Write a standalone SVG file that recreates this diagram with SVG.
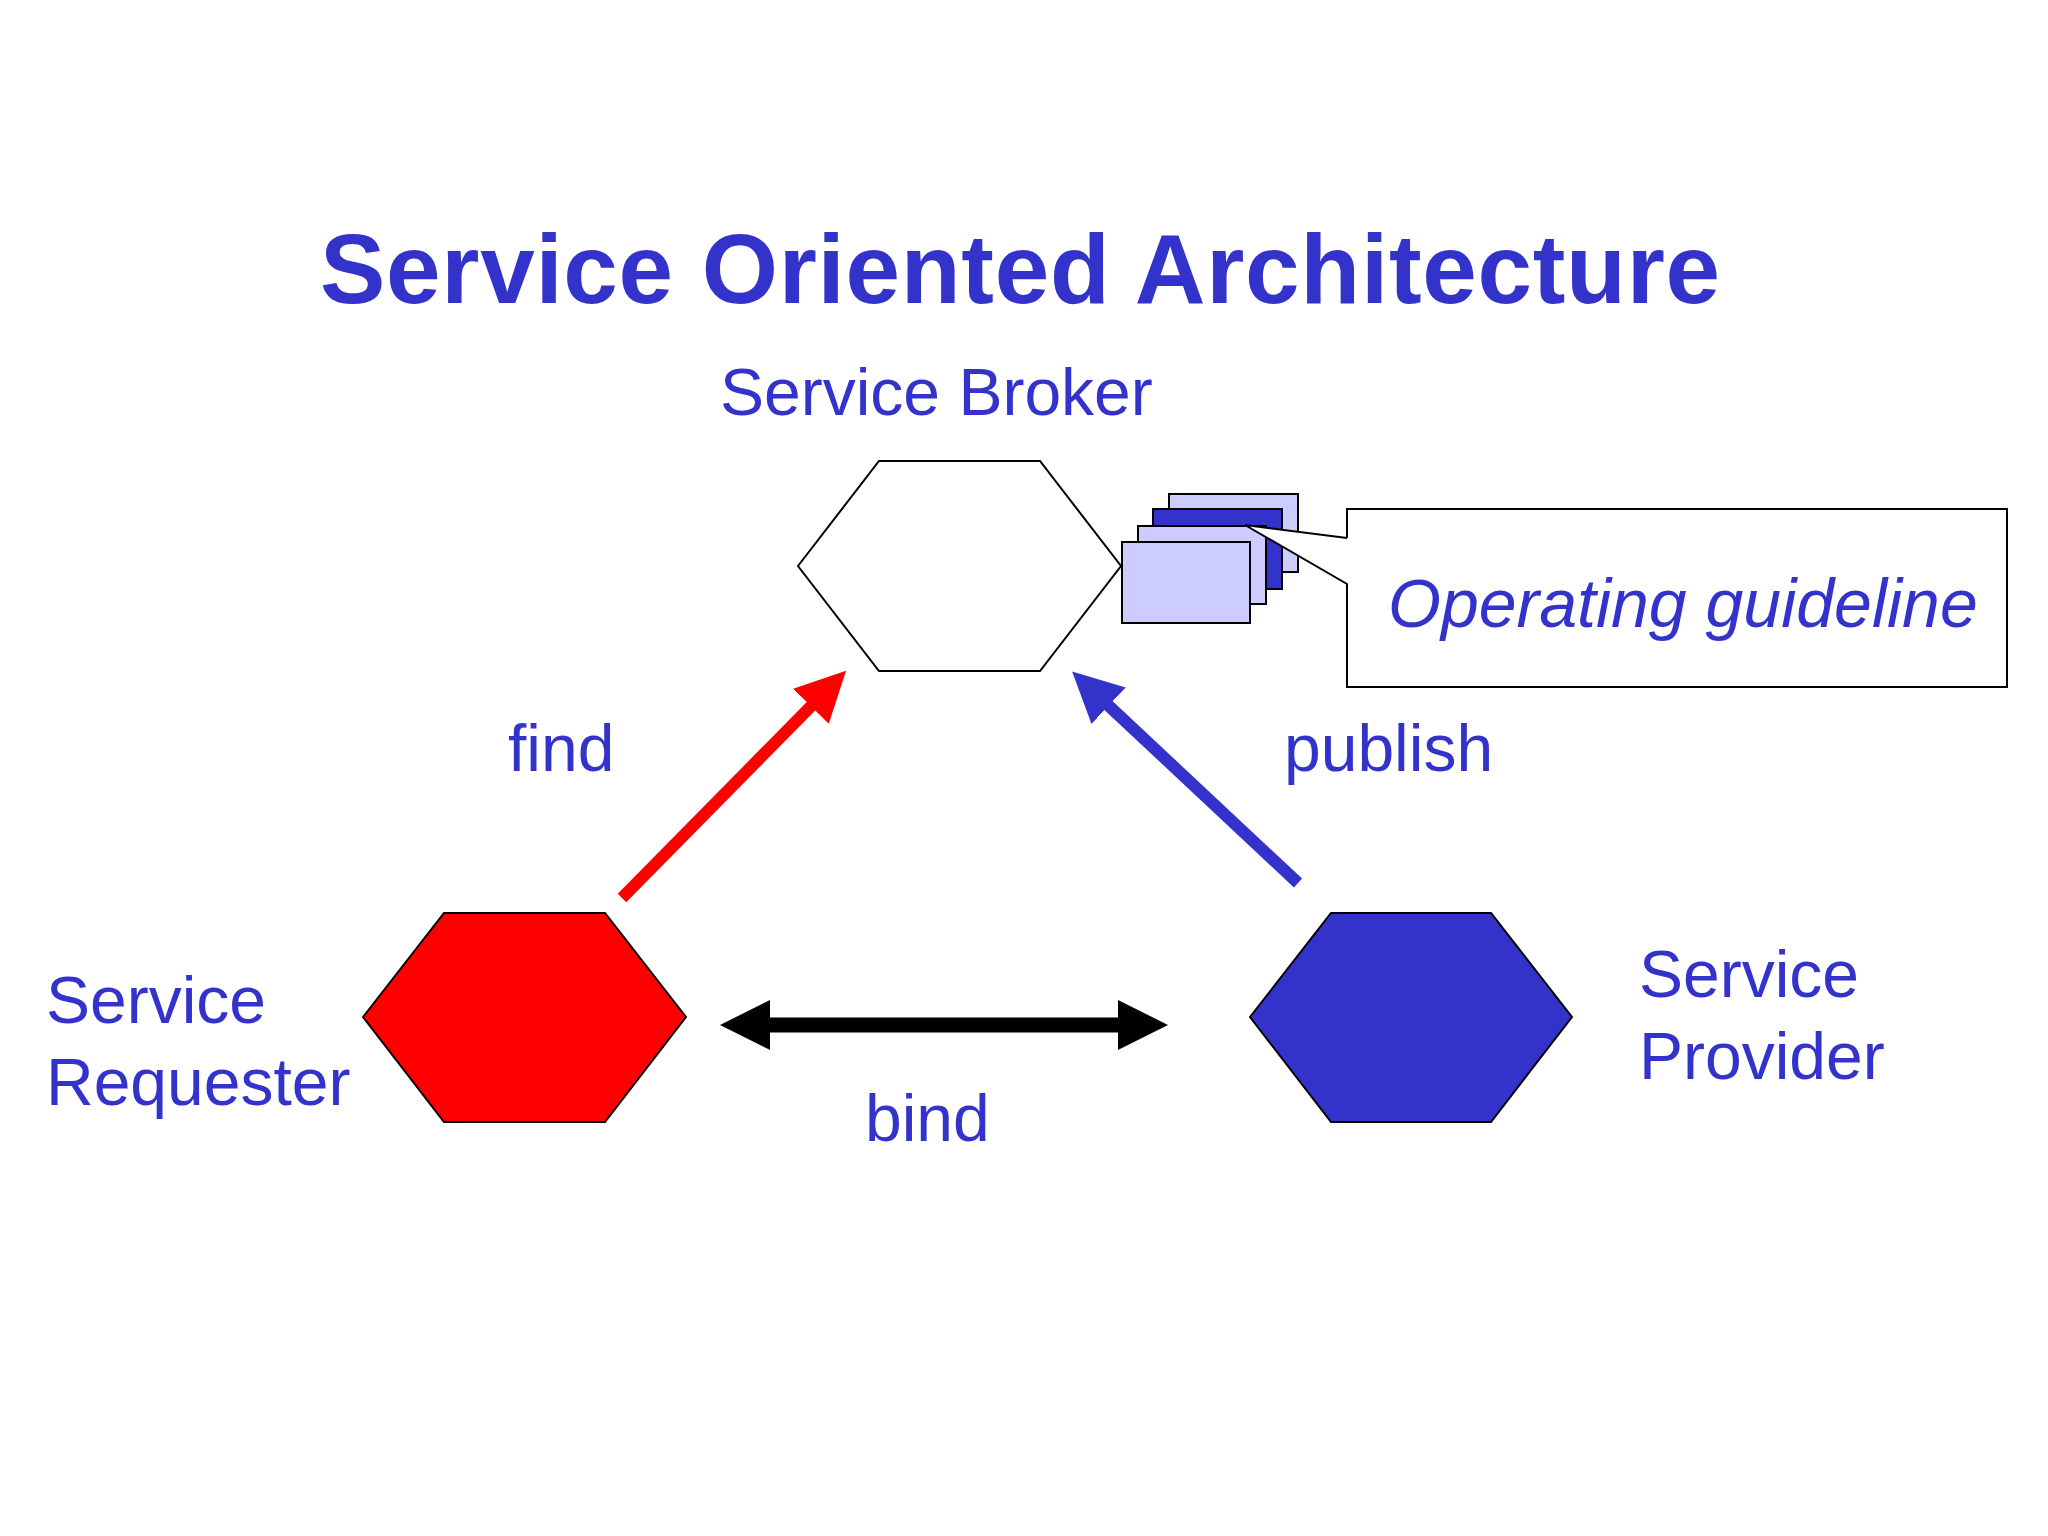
<svg xmlns="http://www.w3.org/2000/svg" width="2048" height="1536" viewBox="0 0 2048 1536">
<defs>
<style>
.t{font-family:"Liberation Sans",Arial,sans-serif;fill:#3333CC;font-size:66px}
.hex{stroke:#000;stroke-width:2}
.doc{stroke:#000;stroke-width:2}
</style>
<marker id="hr" markerUnits="userSpaceOnUse" markerWidth="60" markerHeight="60" refX="20" refY="25" orient="auto"><path d="M0,0 L50,25 L0,50 z" fill="#FF0000"/></marker>
<marker id="hb" markerUnits="userSpaceOnUse" markerWidth="60" markerHeight="60" refX="20" refY="25" orient="auto"><path d="M0,0 L50,25 L0,50 z" fill="#3333CC"/></marker>
<marker id="hk" markerUnits="userSpaceOnUse" markerWidth="60" markerHeight="60" refX="20" refY="25" orient="auto-start-reverse"><path d="M0,0 L50,25 L0,50 z" fill="#000"/></marker>
</defs>
<rect width="2048" height="1536" fill="#FFFFFF"/>
<text class="t" x="320" y="303" style="font-size:98px;font-weight:bold" textLength="1400" lengthAdjust="spacing">Service Oriented Architecture</text>
<g id="broker">
<polygon class="hex" points="798,566 879,461 1040,461 1121,566 1040,671 879,671" fill="#FFFFFF"/>
<text class="t" x="720" y="415">Service Broker</text>
</g>
<g id="requester">
<polygon class="hex" points="363,1017 444,913 605,913 686,1017 605,1122 444,1122" fill="#FF0000"/>
<text class="t" x="46" y="1023">Service</text>
<text class="t" x="46" y="1105">Requester</text>
</g>
<g id="provider">
<polygon class="hex" points="1250,1017 1331,913 1491,913 1572,1017 1491,1122 1331,1122" fill="#3333CC"/>
<text class="t" x="1639" y="997">Service</text>
<text class="t" x="1639" y="1079">Provider</text>
</g>
<g id="documents">
<rect class="doc" x="1169" y="494" width="129" height="78" fill="#CCCCFF"/>
<rect class="doc" x="1153" y="509" width="129" height="80" fill="#3333CC"/>
<rect class="doc" x="1138" y="526" width="128" height="78" fill="#CCCCFF"/>
<rect class="doc" x="1122" y="542" width="128" height="81" fill="#CCCCFF"/>
</g>
<g id="guideline">
<path d="M1347,538 L1347,509 L2007,509 L2007,687 L1347,687 L1347,584 L1245,525 L1347,538" fill="#FFFFFF" stroke="#000" stroke-width="2"/>
<text class="t" x="1388" y="627" style="font-style:italic;font-size:68px">Operating guideline</text>
</g>
<g id="connectors">
<line x1="622" y1="898" x2="825" y2="692" stroke="#FF0000" stroke-width="12" marker-end="url(#hr)"/>
<line x1="1298" y1="883" x2="1094" y2="692" stroke="#3333CC" stroke-width="12" marker-end="url(#hb)"/>
<line x1="750" y1="1025" x2="1138" y2="1025" stroke="#000" stroke-width="15" marker-start="url(#hk)" marker-end="url(#hk)"/>
<text class="t" x="508" y="771">find</text>
<text class="t" x="1284" y="771">publish</text>
<text class="t" x="865" y="1141">bind</text>
</g>
</svg>
